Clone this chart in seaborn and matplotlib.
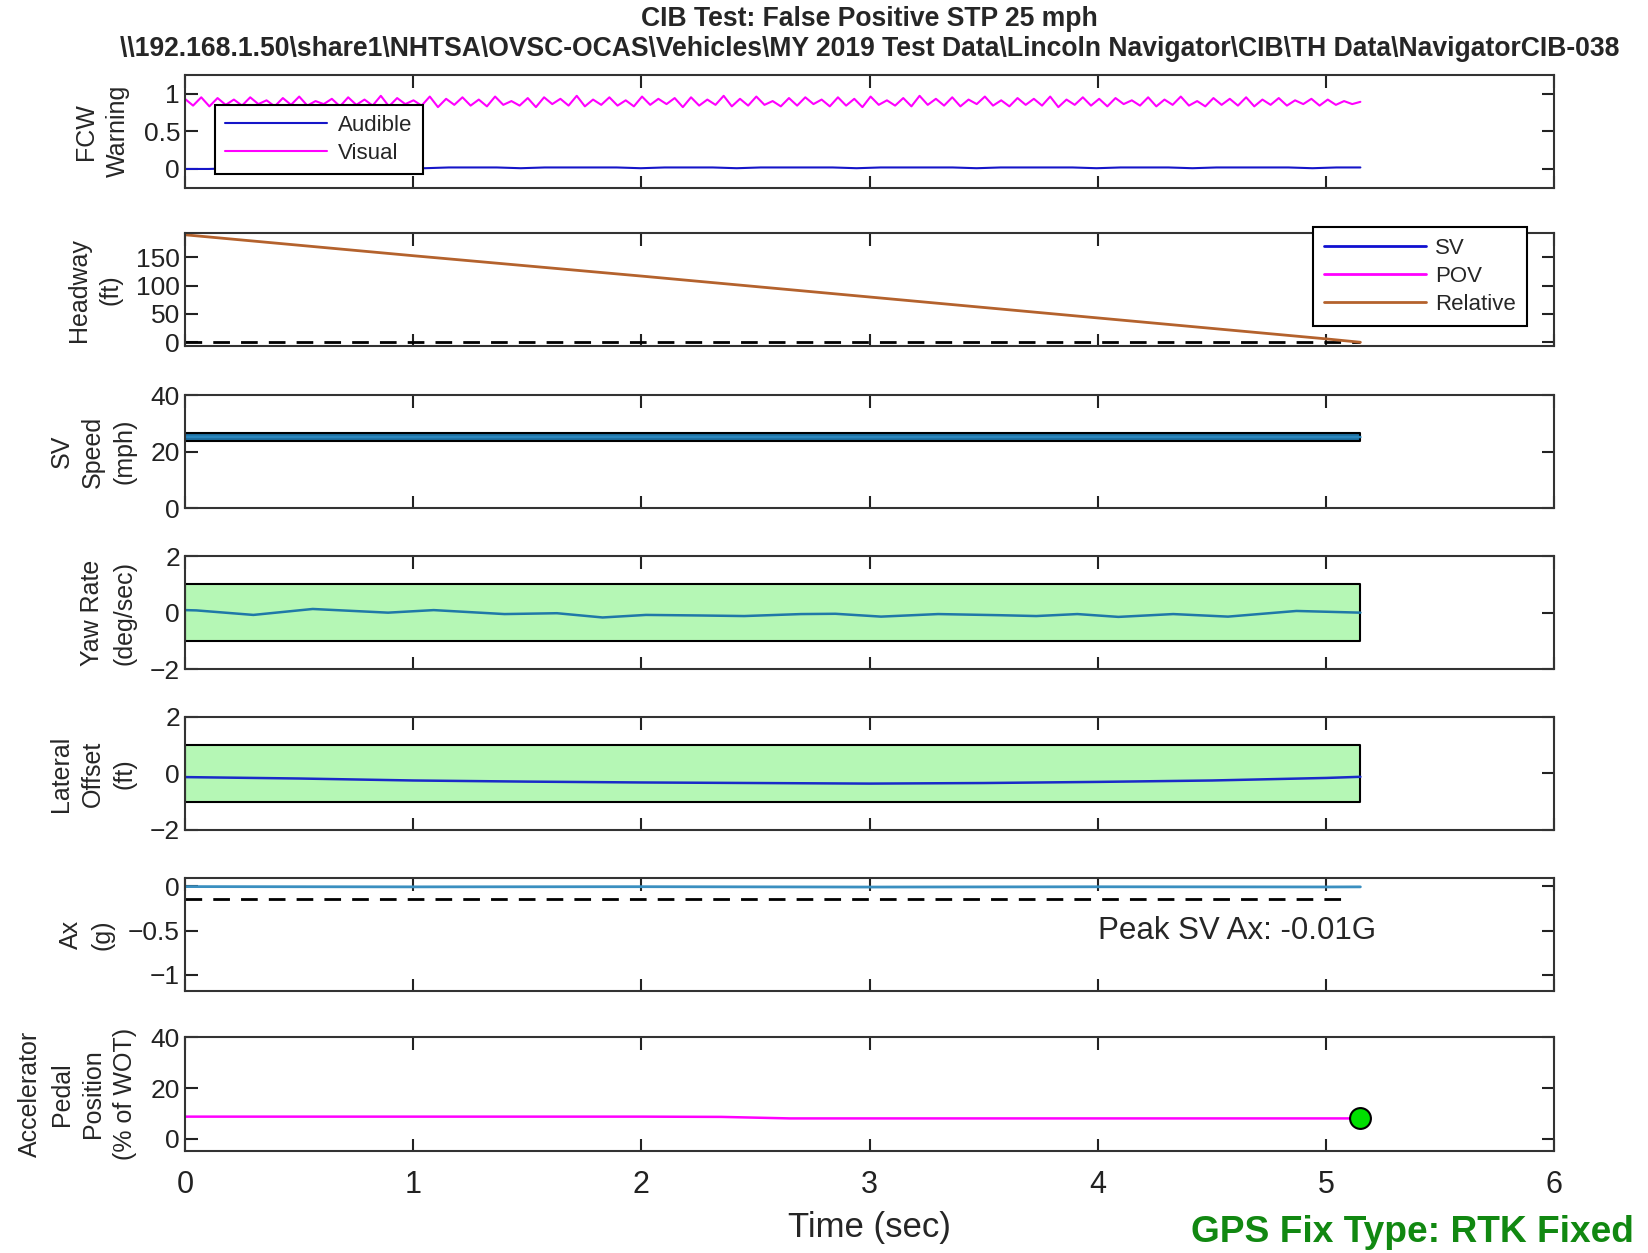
import numpy as np
import pandas as pd
import matplotlib
matplotlib.use('Agg')
import matplotlib.pyplot as plt
from matplotlib.lines import Line2D
import seaborn as sns

sns.set_style('ticks')
plt.rcParams['font.family'] = ['Liberation Sans', 'DejaVu Sans']

# ---- values ----
t_end = 5.15

visual_warning = [
    0.93, 0.84, 0.95, 0.83, 0.94, 0.85, 0.92, 0.84, 0.95, 0.86,
    0.91, 0.83, 0.94, 0.85, 0.96, 0.84, 0.90, 0.86, 0.93, 0.83,
    0.95, 0.85, 0.92, 0.84, 0.97, 0.83, 0.94, 0.86, 0.91, 0.84,
    0.96, 0.82, 0.93, 0.85, 0.95, 0.84, 0.92, 0.83, 0.96, 0.85,
    0.90, 0.84, 0.94, 0.82, 0.95, 0.86, 0.93, 0.84, 0.97, 0.83,
    0.92, 0.85, 0.95, 0.84, 0.91, 0.83, 0.96, 0.85, 0.93, 0.86,
    0.94, 0.82, 0.95, 0.84, 0.92, 0.85, 0.97, 0.83, 0.93, 0.84,
    0.96, 0.85, 0.90, 0.83, 0.94, 0.84, 0.95, 0.86, 0.92, 0.83,
    0.95, 0.84, 0.93, 0.82, 0.96, 0.85, 0.91, 0.84, 0.94, 0.83,
    0.97, 0.85, 0.93, 0.84, 0.95, 0.83, 0.92, 0.86, 0.96, 0.84,
    0.91, 0.83, 0.94, 0.85, 0.93, 0.84, 0.96, 0.82, 0.92, 0.85,
    0.95, 0.84, 0.93, 0.83, 0.94, 0.86, 0.91, 0.84, 0.95, 0.83,
    0.92, 0.85, 0.96, 0.84, 0.90, 0.83, 0.94, 0.85, 0.93, 0.84,
    0.95, 0.83, 0.92, 0.85, 0.94, 0.84, 0.91, 0.86, 0.93, 0.84,
    0.92, 0.85, 0.90, 0.86, 0.89,
]
audible_warning = [
    0.00, 0.00, 0.01, 0.02, 0.02, 0.02, 0.01, 0.02, 0.02, 0.02,
    0.01, 0.02, 0.02, 0.02, 0.01, 0.02, 0.02, 0.02, 0.02, 0.01,
    0.02, 0.02, 0.02, 0.01, 0.02, 0.02, 0.02, 0.02, 0.01, 0.02,
    0.02, 0.02, 0.02, 0.01, 0.02, 0.02, 0.02, 0.02, 0.01, 0.02,
    0.02, 0.02, 0.01, 0.02, 0.02, 0.02, 0.02, 0.01, 0.02, 0.02,
]

headway_time = [0, 1, 2, 3, 4, 5, 5.15]
headway_relative = [190, 153, 117, 80, 43, 6, 0]
headway_ref = 0

speed_time = [0, 1, 2, 3, 4, 5, 5.15]
sv_speed = [25.3, 25.2, 25.3, 25.2, 25.3, 25.2, 25.2]
speed_band = (23.9, 26.7)

yaw_time = [0, 0.05, 0.30, 0.56, 0.89, 1.09, 1.40, 1.63, 1.83, 2.02, 2.26,
            2.45, 2.70, 2.85, 3.05, 3.30, 3.57, 3.73, 3.91, 4.09, 4.33,
            4.57, 4.87, 5.15]
yaw_rate = [0.09, 0.08, -0.08, 0.13, 0.00, 0.09, -0.05, -0.02, -0.17, -0.08, -0.10,
            -0.12, -0.05, -0.04, -0.14, -0.05, -0.09, -0.12, -0.05, -0.15, -0.05,
            -0.14, 0.06, 0.00]
yaw_band = (-1, 1)

lat_time = [0, 0.5, 1, 1.5, 2, 2.5, 3, 3.5, 4, 4.5, 5, 5.15]
lat_offset = [-0.13, -0.18, -0.25, -0.29, -0.32, -0.34, -0.36, -0.34, -0.30, -0.25, -0.16, -0.12]
lat_band = (-1, 1)

ax_time = [0, 1, 2, 3, 4, 5, 5.15]
sv_ax = [-0.005, -0.008, -0.006, -0.010, -0.007, -0.009, -0.008]
ax_threshold = -0.15
ax_threshold_end = 5.1
peak_ax = -0.01

pedal_time = [0, 1, 2, 2.35, 2.65, 3, 4, 5, 5.15]
pedal_pos = [8.8, 8.8, 8.8, 8.7, 8.1, 8.1, 8.1, 8.1, 8.1]

vis_t = np.linspace(0, t_end, len(visual_warning))
aud_t = np.linspace(0, t_end, len(audible_warning))

# ---- figure ----
fig = plt.figure(figsize=(16.48, 12.53), dpi=100)
left, width, height = 0.1122, 0.831, 0.0903
tops = [0.0596, 0.1862, 0.3154, 0.4438, 0.5721, 0.7005, 0.8280]
axes = [fig.add_axes([left, 1 - tp - height, width, height]) for tp in tops]

FS = 19
LFS = 18
LEGFS = 16
green = '#B5F7B5'
MINUS = '\u2212'

for a in axes:
    a.set_xlim(0, 6)
    a.set_xticks(range(7))
    a.tick_params(direction='in', top=True, right=True, length=9, width=1.5,
                  labelsize=FS, colors='#222222')
    for s in a.spines.values():
        s.set_linewidth(1.5)
        s.set_color('#333333')
    a.set_xlabel('')


def ylab(a, text):
    a.set_ylabel(text, fontsize=LFS, linespacing=1.4, labelpad=10)


def leg_style(leg):
    leg.get_frame().set_linewidth(1.5)
    leg.set_zorder(10)


# 1. FCW warning
ax1 = axes[0]
sns.lineplot(x=aud_t, y=audible_warning, ax=ax1, color='#1515C8', lw=1.5, label='Audible')
sns.lineplot(x=vis_t, y=visual_warning, ax=ax1, color='#FF00FF', lw=1.5, label='Visual')
ax1.set_ylim(-0.25, 1.25)
ax1.set_yticks([0, 0.5, 1])
ax1.set_yticklabels(['0', '0.5', '1'])
ylab(ax1, 'FCW\nWarning')
leg_style(ax1.legend(loc='upper left', bbox_to_anchor=(0.022, 0.73), borderaxespad=0,
                     fontsize=LEGFS, handlelength=4.6, handletextpad=0.5,
                     labelspacing=0.3, borderpad=0.45,
                     fancybox=False, edgecolor='black', framealpha=1))

# 2. Headway
ax2 = axes[1]
ax2.plot([0, t_end], [headway_ref, headway_ref], ls='--', color='black', lw=2, dashes=(6, 4))
sns.lineplot(x=headway_time, y=headway_relative, ax=ax2, color='#B4622D', lw=2, legend=False)
ax2.set_ylim(-7.4, 192.6)
ax2.set_yticks([0, 50, 100, 150])
ylab(ax2, 'Headway\n(ft)')
handles = [Line2D([], [], color='#1010D0', lw=2),
           Line2D([], [], color='#FF00FF', lw=2),
           Line2D([], [], color='#B4622D', lw=2)]
leg_style(ax2.legend(handles, ['SV', 'POV', 'Relative'], loc='upper right',
                     bbox_to_anchor=(0.98, 1.055), borderaxespad=0, fontsize=LEGFS,
                     handlelength=4.6, handletextpad=0.4, labelspacing=0.3,
                     borderpad=0.5, fancybox=False, edgecolor='black', framealpha=1))

# 3. SV speed
ax3 = axes[2]
ax3.fill_between([0, t_end], speed_band[0], speed_band[1], facecolor='#1E6FA0',
                 edgecolor='black', lw=1.5)
sns.lineplot(x=speed_time, y=sv_speed, ax=ax3, color='#2A86BC', lw=1.8, legend=False)
ax3.set_ylim(0, 40)
ax3.set_yticks([0, 20, 40])
ylab(ax3, 'SV\nSpeed\n(mph)')

# 4. Yaw rate
ax4 = axes[3]
ax4.fill_between([0, t_end], yaw_band[0], yaw_band[1], facecolor=green,
                 edgecolor='black', lw=1.5)
sns.lineplot(x=yaw_time, y=yaw_rate, ax=ax4, color='#1F78A8', lw=1.8, legend=False)
ax4.set_ylim(-2, 2)
ax4.set_yticks([-2, 0, 2])
ax4.set_yticklabels([MINUS + '2', '0', '2'])
ylab(ax4, 'Yaw Rate\n(deg/sec)')

# 5. Lateral offset
ax5 = axes[4]
ax5.fill_between([0, t_end], lat_band[0], lat_band[1], facecolor=green,
                 edgecolor='black', lw=1.5)
sns.lineplot(x=lat_time, y=lat_offset, ax=ax5, color='#1A2AC8', lw=1.8, legend=False)
ax5.set_ylim(-2, 2)
ax5.set_yticks([-2, 0, 2])
ax5.set_yticklabels([MINUS + '2', '0', '2'])
ylab(ax5, 'Lateral\nOffset\n(ft)')

# 6. Ax
ax6 = axes[5]
ax6.plot([0, ax_threshold_end], [ax_threshold, ax_threshold], ls='--', color='black',
         lw=2, dashes=(6, 4))
sns.lineplot(x=ax_time, y=sv_ax, ax=ax6, color='#3A8FC0', lw=2, legend=False)
ax6.set_ylim(-1.18, 0.095)
ax6.set_yticks([-1, -0.5, 0])
ax6.set_yticklabels([MINUS + '1', MINUS + '0.5', '0'])
ylab(ax6, 'Ax\n(g)')
ax6.text(4.0, -0.5, f'Peak SV Ax: {peak_ax:.2f}G', fontsize=22.5, va='center', ha='left')

# 7. Accelerator pedal
ax7 = axes[6]
sns.lineplot(x=pedal_time, y=pedal_pos, ax=ax7, color='#FF00FF', lw=1.8, legend=False)
ax7.plot([pedal_time[-1]], [pedal_pos[-1]], 'o', markersize=15, markerfacecolor='#00E000',
         markeredgecolor='black', markeredgewidth=1.5, clip_on=False)
ax7.set_ylim(-4.6, 40)
ax7.set_yticks([0, 20, 40])
ylab(ax7, 'Accelerator\nPedal\nPosition\n(% of WOT)')
ax7.tick_params(axis='x', pad=14, labelsize=22)
ax7.set_xlabel('Time (sec)', fontsize=25, labelpad=8)

for a in axes[:-1]:
    a.tick_params(labelbottom=False)

cx = left + width / 2
fig.text(cx, 0.985, 'CIB Test: False Positive STP 25 mph', ha='center', va='center',
         fontsize=19.1, fontweight='bold')
fig.text(cx, 0.9606,
         r'\\192.168.1.50\share1\NHTSA\OVSC-OCAS\Vehicles\MY 2019 Test Data\Lincoln Navigator\CIB\TH Data\NavigatorCIB-038',
         ha='center', va='center', fontsize=19.1, fontweight='bold')
fig.text(0.9917, 0.016, 'GPS Fix Type: RTK Fixed', ha='right', va='center',
         fontsize=26.7, fontweight='bold', color='#118811')

fig.savefig('out.png', dpi=100)
